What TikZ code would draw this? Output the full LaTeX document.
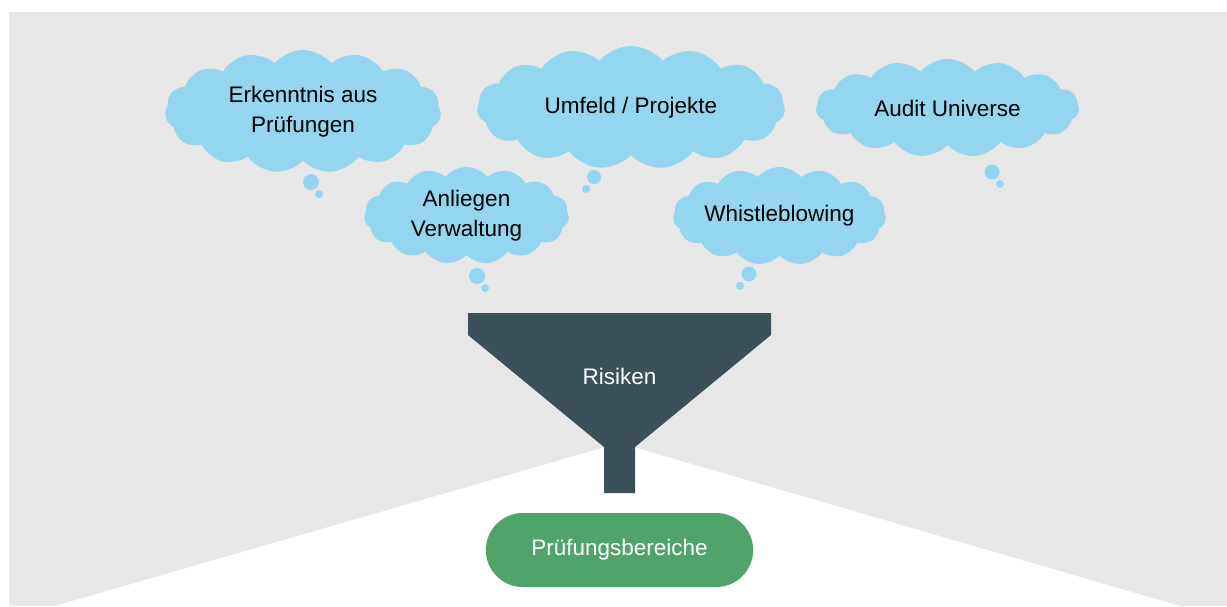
\documentclass[tikz,border=0pt]{standalone}
\usepackage{fontspec}
\setmainfont{Liberation Sans}
\usetikzlibrary{positioning,shapes.symbols,shapes.misc}
\definecolor{bggray}{RGB}{231,231,231}
\definecolor{cloudblue}{RGB}{148,214,239}
\definecolor{funnelgray}{RGB}{60,80,89}
\definecolor{pillgreen}{RGB}{80,164,106}

\begin{document}
\begin{tikzpicture}[x=1pt, y=-1pt,
  every node/.style={font=\fontsize{22.5}{29.5}\selectfont},
  thought/.style={cloud, cloud puffs=15, cloud puff arc=100, cloud ignores aspect, fill=cloudblue, inner sep=0pt, align=center},
  bubble/.style={circle, fill=cloudblue, inner sep=0pt}]
\useasboundingbox (0,0) rectangle (1227,606);
\fill[bggray] (9,12) rectangle (1227,606);
\fill[white] (619.5,443) -- (1180,606) -- (55,606) -- cycle;
\node[thought, minimum width=276pt, minimum height=123pt] (erkenntnis) at (303,111.5) {Erkenntnis aus\\Prüfungen};
\node[thought, minimum width=308pt, minimum height=123pt] (umfeld) at (631,107.5) {Umfeld / Projekte};
\node[thought, minimum width=263pt, minimum height=98pt] (audit) at (947.5,108) {Audit Universe};
\node[thought, minimum width=205pt, minimum height=97pt] (anliegen) at (466.5,215.5) {Anliegen\\Verwaltung};
\node[thought, minimum width=213pt, minimum height=98pt] (whistle) at (779.5,216) {Whistleblowing};
\node[bubble, minimum size=16pt] (erkenntnis-b1) at (311,182) {};
\node[bubble, minimum size=8pt] (erkenntnis-b2) at (319,194) {};
\node[bubble, minimum size=14pt] (umfeld-b1) at (594,177) {};
\node[bubble, minimum size=8pt] (umfeld-b2) at (586,189) {};
\node[bubble, minimum size=15pt] (audit-b1) at (992,172) {};
\node[bubble, minimum size=8pt] (audit-b2) at (1000,184) {};
\node[bubble, minimum size=16pt] (anliegen-b1) at (477,276) {};
\node[bubble, minimum size=8pt] (anliegen-b2) at (485,288) {};
\node[bubble, minimum size=15pt] (whistle-b1) at (749,274) {};
\node[bubble, minimum size=8pt] (whistle-b2) at (740,286) {};
\fill[funnelgray] (468,313) -- (771,313) -- (771,335) -- (635,447) -- (635,493) -- (604,493) -- (604,447) -- (468,335) -- cycle;
\node[text=white] (risiken) at (619.5,376) {Risiken};
\node[rounded rectangle, fill=pillgreen, text=white, minimum width=274pt, minimum height=74pt] (bereiche) at (619.5,550) {Prüfungsbereiche};
\end{tikzpicture}
\end{document}
